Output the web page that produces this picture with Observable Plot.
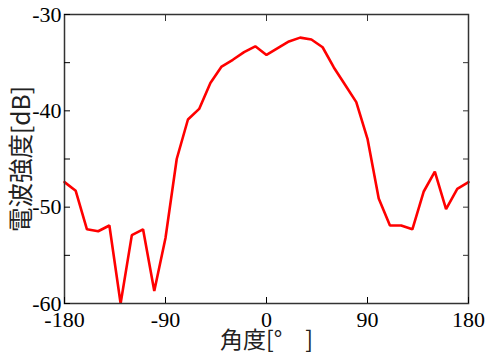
<!DOCTYPE html>
<html><head><meta charset="utf-8">
<script src="https://cdn.jsdelivr.net/npm/d3@7"></script>
<script src="https://cdn.jsdelivr.net/npm/@observablehq/plot@0.6"></script>
<style>body{margin:0;background:#fff}</style>
</head><body><div id="chart"></div>
<script>
const angles = [-180,-170,-160,-150,-140,-130,-120,-110,-100,-90,-80,-70,-60,-50,-40,-30,-20,-10,0,10,20,30,40,50,60,70,80,90,100,110,120,130,140,150,160,170,180];
const levels = [-47.4,-48.3,-52.3,-52.5,-51.9,-60.0,-52.9,-52.3,-58.7,-53.2,-45.0,-40.9,-39.8,-37.1,-35.4,-34.7,-33.9,-33.3,-34.2,-33.5,-32.8,-32.4,-32.6,-33.4,-35.5,-37.3,-39.1,-42.9,-49.1,-51.9,-51.9,-52.3,-48.4,-46.3,-50.2,-48.1,-47.4];
const xTicks = [-180,-90,0,90,180];
const yTicks = [-60,-55,-50,-45,-40,-35,-30];
const yLabelTicks = [-60,-50,-40,-30];
const xLabel = "角度[°　]";
const yLabel = "電波強度[dB]";

const data = angles.map((a,i)=>({angle:a, level:levels[i]}));
const serif = "Liberation Serif";
const cjk = "Noto Sans CJK JP";
const axisColor = "#333";

const chart = Plot.plot({
  width: 488, height: 360,
  marginLeft: 64, marginRight: 20, marginTop: 14, marginBottom: 57,
  x: {domain: [-180,180]},
  y: {domain: [-60,-30]},
  style: {background: "#fff", color: axisColor, fontFamily: "'Liberation Serif', serif", fontSize: "22px"},
  marks: [
    Plot.line(data, {x: "angle", y: "level", stroke: "#ff0000", strokeWidth: 2.6, strokeLinejoin: "miter"}),
    Plot.frame({stroke: axisColor, strokeWidth: 1.5}),
    Plot.axisY({anchor: "left", ticks: yTicks, tickSize: -6, tickPadding: 9, label: null,
      tickFormat: d => yLabelTicks.includes(d) ? String(d) : "",
      fontSize: 22, fontFamily: serif, color: "#000"}),
    Plot.axisY({anchor: "right", ticks: yTicks, tickSize: -6, label: null, tickFormat: () => ""}),
    Plot.axisX({anchor: "bottom", ticks: xTicks, tickSize: -6, tickPadding: 14, label: null,
      tickFormat: d => String(d), fontSize: 22, fontFamily: serif, color: "#000"}),
    Plot.axisX({anchor: "top", ticks: xTicks, tickSize: -6, label: null, tickFormat: () => ""}),
    Plot.text([xLabel], {text: d => d, frameAnchor: "bottom", textAnchor: "middle", dy: 44, fontSize: 23, fontFamily: cjk, fill: "#222"}),
    Plot.text([yLabel], {text: d => d, frameAnchor: "left", textAnchor: "middle", dx: -42, rotate: -90, fontSize: 24.5, fontFamily: cjk, fill: "#222"})
  ]
});
document.getElementById("chart").appendChild(chart);
</script>
</body></html>
